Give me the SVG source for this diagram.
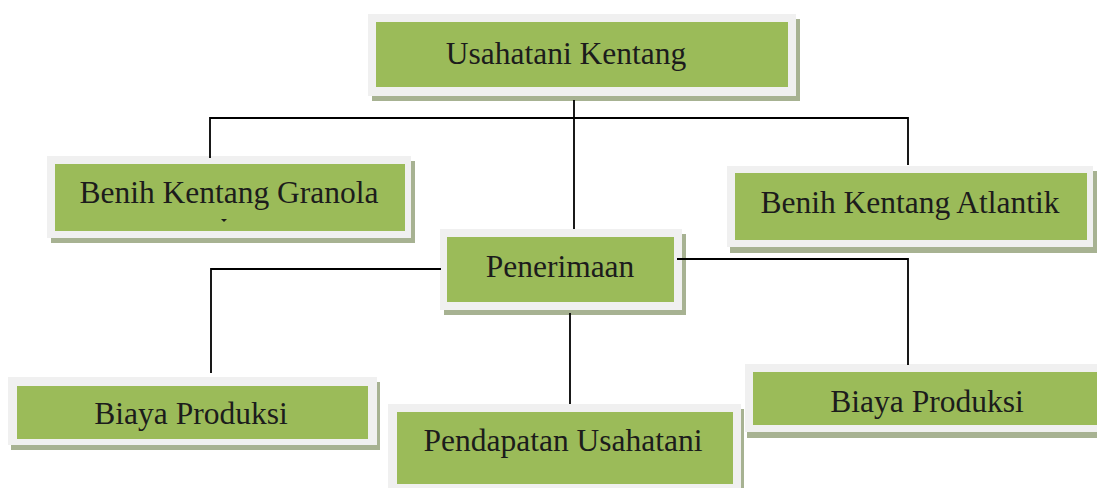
<svg xmlns="http://www.w3.org/2000/svg" width="1097" height="488" viewBox="0 0 1097 488">
<defs>
<style>
.sh{fill:#a7b292}
.out{fill:#f0f0f0}
.in{fill:#9bbb59}
.t{font-family:"Liberation Serif","Times New Roman",serif;font-size:31.5px;fill:#1c1c1c;text-anchor:middle}
.c{stroke:#000;stroke-width:1.8;fill:none}
</style>
</defs>
<rect width="1097" height="488" fill="#fff"/>
<g id="n1">
<rect class="sh" x="372" y="19" width="428" height="82"/>
<rect class="out" x="368" y="14" width="428" height="82"/>
<rect class="in" x="376" y="22" width="412" height="65"/>
<text class="t" x="566" y="64">Usahatani Kentang</text>
</g>
<g id="n2">
<rect class="sh" x="51" y="161" width="364" height="82"/>
<rect class="out" x="47" y="156" width="364" height="82"/>
<rect class="in" x="55" y="164" width="350" height="67"/>
<text class="t" x="229" y="203">Benih Kentang Granola</text>
<polygon points="221,219 227,219 224,222" fill="#1c1c1c"/>
</g>
<g id="n3">
<rect class="sh" x="444" y="234" width="242" height="81"/>
<rect class="out" x="440" y="229" width="242" height="81"/>
<rect class="in" x="447" y="237" width="227" height="65"/>
<text class="t" x="560" y="277">Penerimaan</text>
</g>
<g id="n4">
<rect class="sh" x="11" y="382" width="369" height="68"/>
<rect class="out" x="8" y="377" width="369" height="68"/>
<rect class="in" x="17" y="386" width="351" height="53"/>
<text class="t" x="191" y="424">Biaya Produksi</text>
</g>
<g id="n5">
<rect class="sh" x="391" y="409" width="353" height="86"/>
<rect class="out" x="388" y="404" width="353" height="86"/>
<rect class="in" x="397" y="412" width="336" height="72"/>
<text class="t" x="563" y="451">Pendapatan Usahatani</text>
</g>
<g id="n6">
<rect class="sh" x="730" y="171" width="367" height="82"/>
<rect class="out" x="727" y="166" width="366" height="81"/>
<rect class="in" x="735" y="173" width="352" height="67"/>
<text class="t" x="910" y="213">Benih Kentang Atlantik</text>
</g>
<g id="n7">
<rect class="sh" x="747" y="369" width="360" height="69"/>
<rect class="out" x="745" y="364" width="360" height="68"/>
<rect class="in" x="753" y="372" width="352" height="53"/>
<text class="t" x="927" y="412">Biaya Produksi</text>
</g>
<g id="connectors">
<path class="c" d="M574,100 V229"/>
<path class="c" d="M210,158 V118 H908 V165"/>
<path class="c" d="M441,269 H211 V373"/>
<path class="c" d="M677,259 H908 V365"/>
<path class="c" d="M570,313 V404"/>
</g>
</svg>
